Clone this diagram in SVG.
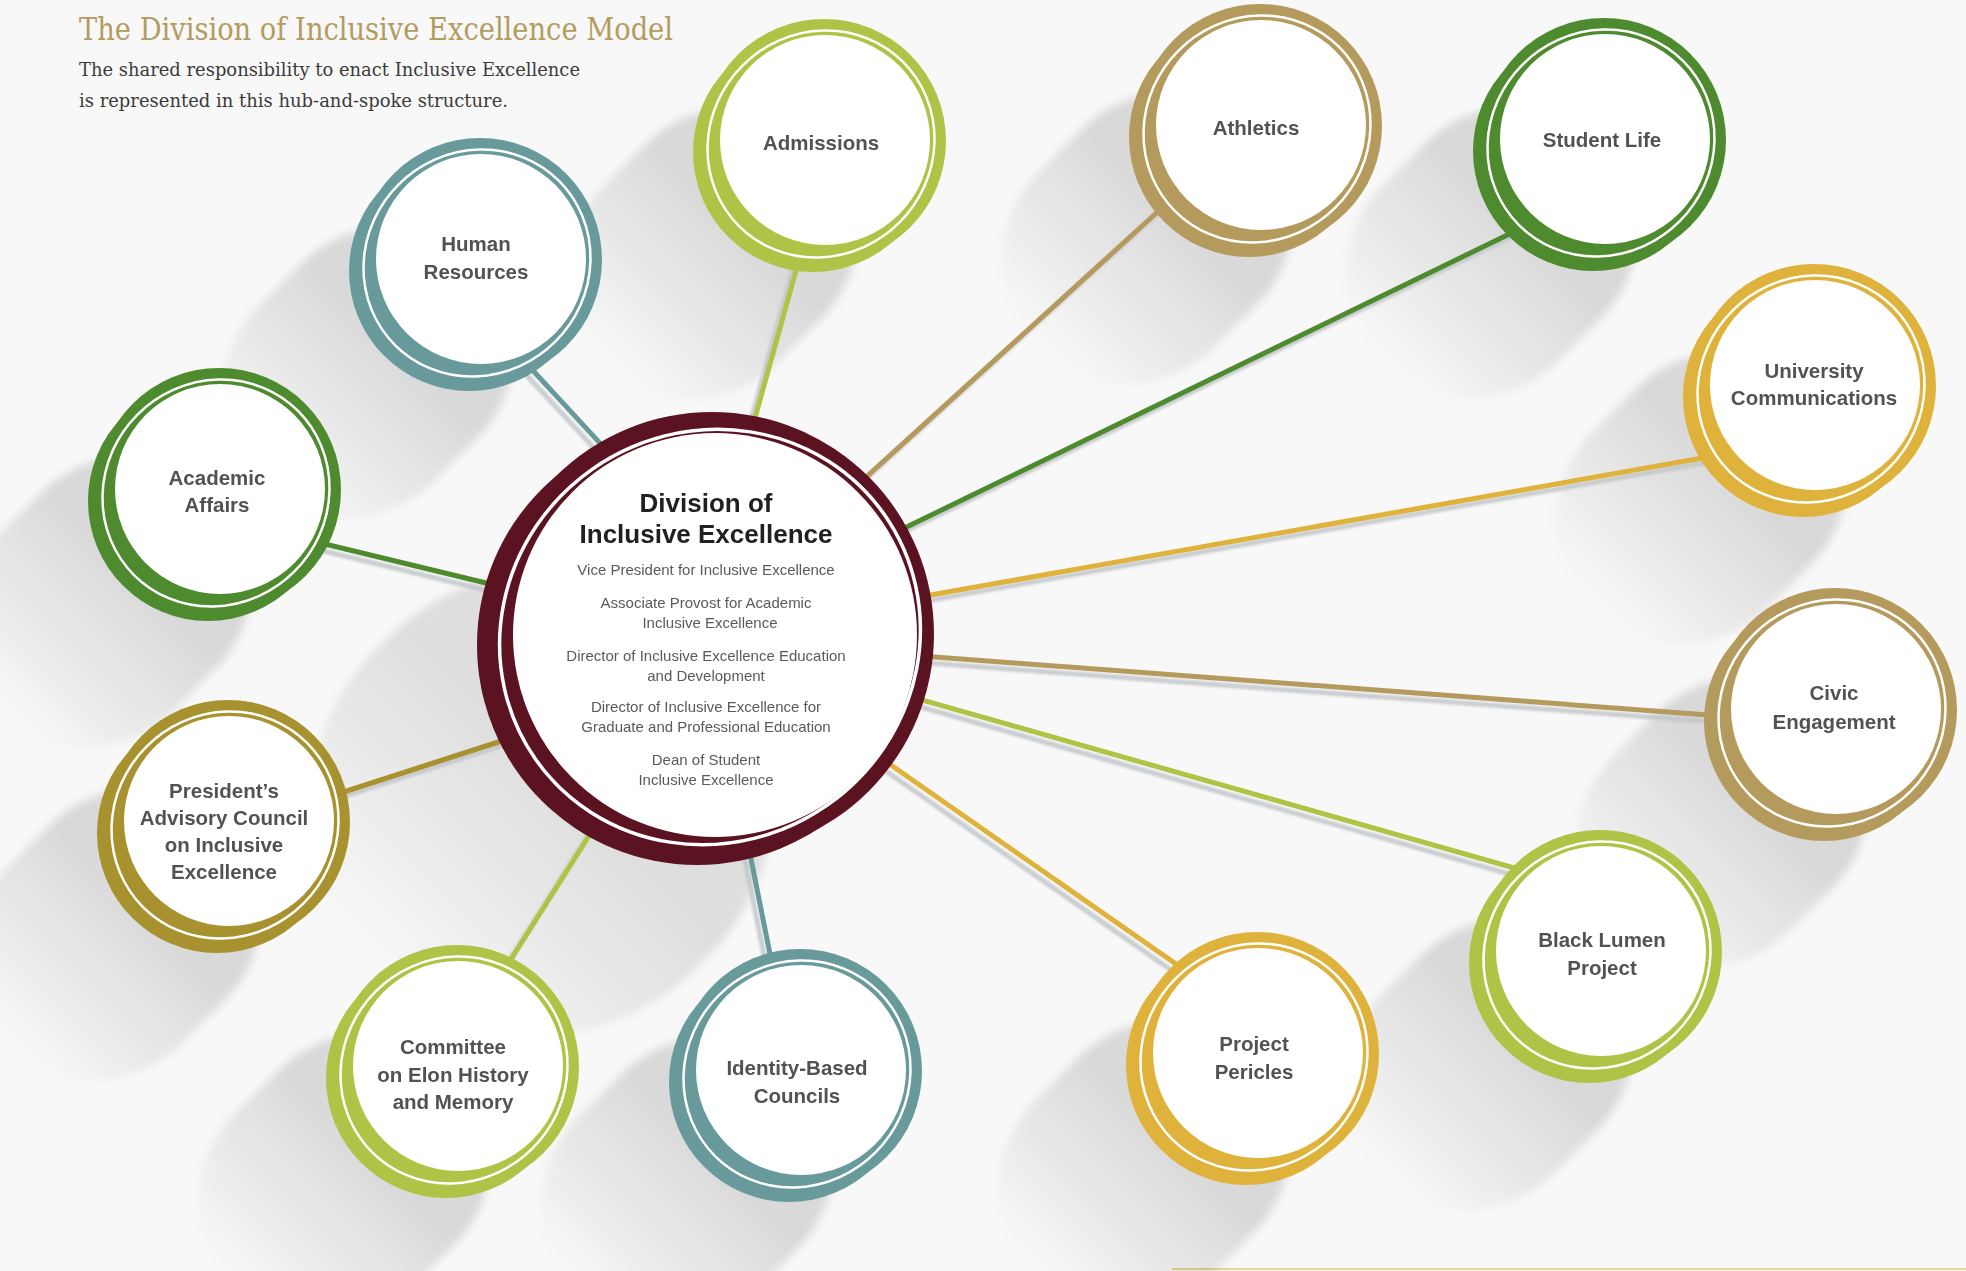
<svg xmlns="http://www.w3.org/2000/svg" width="1966" height="1271" viewBox="0 0 1966 1271">
  <defs>
    <style>
      .title{font-family:"DejaVu Serif Condensed","DejaVu Serif",serif;font-size:31px;fill:#b39c5f}
      .sub{font-family:"DejaVu Serif Condensed","DejaVu Serif",serif;font-size:19px;fill:#3b3b3b}
      .lbl{font-family:"Liberation Sans",Arial,sans-serif;font-weight:bold;font-size:20.5px;fill:#525254;text-anchor:middle}
      .hubt{font-family:"Liberation Sans",Arial,sans-serif;font-weight:bold;font-size:26px;fill:#231f20;text-anchor:middle}
      .hubs{font-family:"Liberation Sans",Arial,sans-serif;font-size:15px;fill:#5a5a5c;text-anchor:middle}
      .spoke{stroke-width:5;stroke-linecap:round;fill:none}
      .spoke-sh{stroke:#c2c6ca;stroke-width:5;stroke-linecap:round;opacity:.85}
      .lime{color:#afc446}
      .tan{color:#b49a5c}
      .green{color:#4e8a2e}
      .gold{color:#deb23b}
      .teal{color:#689a9b}
      .olive{color:#a8922f}
      .maroon{color:#5b1221}
    </style>
    <linearGradient id="shadeGrad" x1="0" y1="0" x2="1" y2="0">
      <stop offset="0.38" stop-color="#000" stop-opacity="0.12"/>
      <stop offset="1" stop-color="#000" stop-opacity="0"/>
    </linearGradient>
    <linearGradient id="hubShadeGrad" x1="0" y1="0" x2="1" y2="0">
      <stop offset="0.45" stop-color="#000" stop-opacity="0.10"/>
      <stop offset="1" stop-color="#000" stop-opacity="0"/>
    </linearGradient>
    <filter id="soft" x="-20%" y="-20%" width="140%" height="140%">
      <feGaussianBlur stdDeviation="4"/>
    </filter>
    <filter id="softLine" x="-5%" y="-5%" width="110%" height="110%">
      <feGaussianBlur stdDeviation="1.2"/>
    </filter>
    <!-- spoke ring: coloured band (heavier toward lower left), thin white line, white face -->
    <g id="ring">
      <circle cx="-8" cy="8" r="120" fill="currentColor"/>
      <circle cx="3" cy="-3" r="122" fill="currentColor"/>
      <ellipse rx="116" ry="111" transform="translate(0,0) rotate(-45)" fill="none" stroke="#fff" stroke-width="2.5"/>
      <circle cx="4" cy="-4" r="105" fill="#fff"/>
    </g>
    <!-- long diagonal shadow cast toward the lower left -->
    <rect id="longShadow" x="0" y="-124" width="310" height="248" rx="124" fill="url(#shadeGrad)"/>
    <rect id="hubShadow" x="0" y="-226" width="470" height="452" rx="226" fill="url(#hubShadeGrad)"/>
  </defs>

  <!-- page -->
  <rect x="0" y="0" width="1966" height="1271" fill="#f8f8f8"/>
  <rect x="1172" y="1268" width="794" height="2" fill="#e2c46a" opacity="0.7"/>

  <!-- heading -->
  <text class="title" x="79" y="40" textLength="594" lengthAdjust="spacingAndGlyphs">The Division of Inclusive Excellence Model</text>
  <text class="sub" x="79" y="76" textLength="501" lengthAdjust="spacingAndGlyphs">The shared responsibility to enact Inclusive Excellence</text>
  <text class="sub" x="79" y="107" textLength="429" lengthAdjust="spacingAndGlyphs">is represented in this hub-and-spoke structure.</text>

  <!-- cast shadows -->
  <g id="shadows" filter="url(#soft)">
    <use href="#hubShadow" transform="translate(707,638) rotate(135)"/>
    <use href="#longShadow" transform="translate(821,144) rotate(135)"/>
    <use href="#longShadow" transform="translate(1257,129) rotate(135)"/>
    <use href="#longShadow" transform="translate(1601,143) rotate(135)"/>
    <use href="#longShadow" transform="translate(1811,389) rotate(135)"/>
    <use href="#longShadow" transform="translate(1832,713) rotate(135)"/>
    <use href="#longShadow" transform="translate(1597,955) rotate(135)"/>
    <use href="#longShadow" transform="translate(1254,1057) rotate(135)"/>
    <use href="#longShadow" transform="translate(797,1074) rotate(135)"/>
    <use href="#longShadow" transform="translate(454,1070) rotate(135)"/>
    <use href="#longShadow" transform="translate(225,825) rotate(135)"/>
    <use href="#longShadow" transform="translate(216,493) rotate(135)"/>
    <use href="#longShadow" transform="translate(477,263) rotate(135)"/>
  </g>

  <!-- spokes from the hub to each unit -->
  <g id="connectors">
    <g id="spoke-shadows" transform="translate(-5,6)" filter="url(#softLine)">
      <line class="spoke-sh" x1="748" y1="443" x2="802" y2="249"/>
      <line class="spoke-sh" x1="852" y1="490" x2="1175" y2="196"/>
      <line class="spoke-sh" x1="886" y1="537" x2="1532" y2="223"/>
      <line class="spoke-sh" x1="908" y1="599" x2="1725" y2="454"/>
      <line class="spoke-sh" x1="908" y1="655" x2="1735" y2="717"/>
      <line class="spoke-sh" x1="901" y1="694" x2="1546" y2="877"/>
      <line class="spoke-sh" x1="868" y1="749" x2="1206" y2="985"/>
      <line class="spoke-sh" x1="746" y1="834" x2="776" y2="984"/>
      <line class="spoke-sh" x1="597" y1="823" x2="498" y2="980"/>
      <line class="spoke-sh" x1="520" y1="735" x2="322" y2="799"/>
      <line class="spoke-sh" x1="515" y1="590" x2="300" y2="538"/>
      <line class="spoke-sh" x1="622" y1="467" x2="513" y2="349"/>
    </g>
    <line class="spoke" stroke="#afc446" x1="748" y1="443" x2="802" y2="249"/>
    <line class="spoke" stroke="#b49a5c" x1="852" y1="490" x2="1175" y2="196"/>
    <line class="spoke" stroke="#4e8a2e" x1="886" y1="537" x2="1532" y2="223"/>
    <line class="spoke" stroke="#deb23b" x1="908" y1="599" x2="1725" y2="454"/>
    <line class="spoke" stroke="#b49a5c" x1="908" y1="655" x2="1735" y2="717"/>
    <line class="spoke" stroke="#afc446" x1="901" y1="694" x2="1546" y2="877"/>
    <line class="spoke" stroke="#deb23b" x1="868" y1="749" x2="1206" y2="985"/>
    <line class="spoke" stroke="#689a9b" x1="746" y1="834" x2="776" y2="984"/>
    <line class="spoke" stroke="#afc446" x1="597" y1="823" x2="498" y2="980"/>
    <line class="spoke" stroke="#a8922f" x1="520" y1="735" x2="322" y2="799"/>
    <line class="spoke" stroke="#4e8a2e" x1="515" y1="590" x2="300" y2="538"/>
    <line class="spoke" stroke="#689a9b" x1="622" y1="467" x2="513" y2="349"/>
  </g>

  <!-- hub -->
  <g id="hub" class="maroon">
    <circle cx="697" cy="645" r="220" fill="currentColor"/>
    <circle cx="712" cy="634" r="222" fill="currentColor"/>
    <ellipse rx="213" ry="205" transform="translate(710,637) rotate(-35)" fill="none" stroke="#fff" stroke-width="3.5"/>
    <circle cx="715" cy="635" r="202" fill="#fff"/>
    <text class="hubt" x="706" y="512">Division of</text>
    <text class="hubt" x="706" y="543">Inclusive Excellence</text>
    <text class="hubs" x="706" y="575">Vice President for Inclusive Excellence</text>
    <text class="hubs" x="706" y="608">Associate Provost for Academic</text>
    <text class="hubs" x="710" y="628">Inclusive Excellence</text>
    <text class="hubs" x="706" y="661">Director of Inclusive Excellence Education</text>
    <text class="hubs" x="706" y="681">and Development</text>
    <text class="hubs" x="706" y="712">Director of Inclusive Excellence for</text>
    <text class="hubs" x="706" y="732">Graduate and Professional Education</text>
    <text class="hubs" x="706" y="765">Dean of Student</text>
    <text class="hubs" x="706" y="785">Inclusive Excellence</text>
  </g>

  <!-- units -->
  <g id="node-admissions" class="lime">
    <use href="#ring" transform="translate(821,144)"/>
    <text class="lbl" x="821" y="150">Admissions</text>
  </g>
  <g id="node-athletics" class="tan">
    <use href="#ring" transform="translate(1257,129)"/>
    <text class="lbl" x="1256" y="135">Athletics</text>
  </g>
  <g id="node-student-life" class="green">
    <use href="#ring" transform="translate(1601,143)"/>
    <text class="lbl" x="1602" y="147">Student Life</text>
  </g>
  <g id="node-university-communications" class="gold">
    <use href="#ring" transform="translate(1811,389)"/>
    <text class="lbl" x="1814" y="378">University<tspan x="1814" dy="26.5">Communications</tspan></text>
  </g>
  <g id="node-civic-engagement" class="tan">
    <use href="#ring" transform="translate(1832,713)"/>
    <text class="lbl" x="1834" y="700">Civic<tspan x="1834" dy="29">Engagement</tspan></text>
  </g>
  <g id="node-black-lumen" class="lime">
    <use href="#ring" transform="translate(1597,955)"/>
    <text class="lbl" x="1602" y="947">Black Lumen<tspan x="1602" dy="28">Project</tspan></text>
  </g>
  <g id="node-project-pericles" class="gold">
    <use href="#ring" transform="translate(1254,1057)"/>
    <text class="lbl" x="1254" y="1051">Project<tspan x="1254" dy="28">Pericles</tspan></text>
  </g>
  <g id="node-identity-councils" class="teal">
    <use href="#ring" transform="translate(797,1074)"/>
    <text class="lbl" x="797" y="1075">Identity-Based<tspan x="797" dy="28">Councils</tspan></text>
  </g>
  <g id="node-committee-history" class="lime">
    <use href="#ring" transform="translate(454,1070)"/>
    <text class="lbl" x="453" y="1054">Committee<tspan x="453" dy="27.5">on Elon History</tspan><tspan x="453" dy="27.5">and Memory</tspan></text>
  </g>
  <g id="node-presidents-council" class="olive">
    <use href="#ring" transform="translate(225,825)"/>
    <text class="lbl" x="224" y="798">President’s<tspan x="224" dy="27">Advisory Council</tspan><tspan x="224" dy="27">on Inclusive</tspan><tspan x="224" dy="27">Excellence</tspan></text>
  </g>
  <g id="node-academic-affairs" class="green">
    <use href="#ring" transform="translate(216,493)"/>
    <text class="lbl" x="217" y="485">Academic<tspan x="217" dy="27">Affairs</tspan></text>
  </g>
  <g id="node-human-resources" class="teal">
    <use href="#ring" transform="translate(477,263)"/>
    <text class="lbl" x="476" y="251">Human<tspan x="476" dy="28">Resources</tspan></text>
  </g>
</svg>
